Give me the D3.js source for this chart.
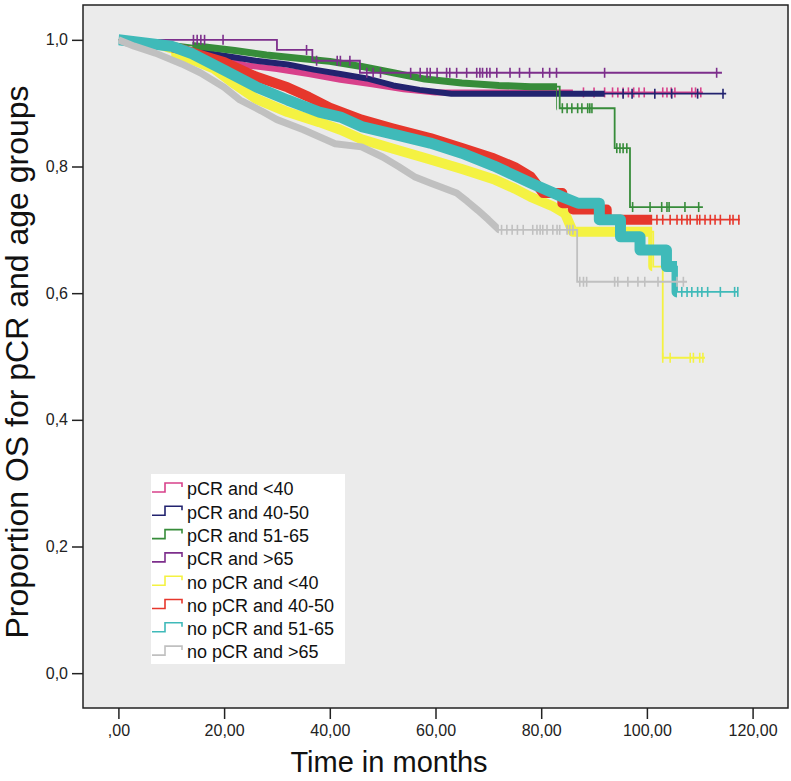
<!DOCTYPE html>
<html><head><meta charset="utf-8">
<script src="https://cdn.jsdelivr.net/npm/d3@7"></script>
<style>body{margin:0;background:#fff}svg text{font-family:"Liberation Sans",Arial,Helvetica,sans-serif}</style>
</head><body><svg id="c" width="791" height="781"></svg>
<script>
// ---- data ----
const seriesNames = ["pCR and <40","pCR and 40-50","pCR and 51-65","pCR and >65",
  "no pCR and <40","no pCR and 40-50","no pCR and 51-65","no pCR and >65"];
const seriesColors = ["#d8418b","#22236f","#378c3a","#7d2f8c","#f4f242","#e6372c","#3fbab9","#c0c0c0"];
const xTicks = [0,20,40,60,80,100,120];
const yTicks = [0,0.2,0.4,0.6,0.8,1.0];

// step knots [time, survival], end time, dense-censoring range, many-small-steps range end, sparse censor times
const pcrLt40 = [[0,1],[6,0.992],[12,0.983],[18,0.972],[24,0.960],[30,0.954],[36,0.946],[42,0.937],[48,0.930],[54,0.922],[60,0.917]];
const pcrLt40End = 110.6, pcrLt40Dense = [14,86], pcrLt40Smooth = 60;
const pcrLt40Cens = [88,90,92,93.5,94.5,95.5,96.5,97.5,98.5,99.5,103,103.8,104.6,105.3,108.5,109.2,110.2];

const pcr4050 = [[0,1],[8,0.992],[14,0.983],[20,0.975],[26,0.967],[32,0.961],[37,0.953],[42,0.946],[47,0.939],[52,0.928],[57,0.921],[63,0.915]];
const pcr4050End = 115, pcr4050Dense = [14,92], pcr4050Smooth = 63;
const pcr4050Cens = [95.5,97.2,101.5,104.7,109.6,114.4];

const pcr5165 = [[0,1],[10,0.995],[16,0.989],[22,0.983],[28,0.976],[34,0.971],[40,0.966],[46,0.958],[52,0.948],[58,0.938],[65,0.932],[72,0.928],[78,0.926],[83.5,0.892],[93.9,0.829],[96.8,0.736]];
const pcr5165End = 110.6, pcr5165Dense = [14,83], pcr5165Smooth = 78;
const pcr5165Cens = [84,84.9,85.8,86.9,87.7,88.8,89.2,89.6,94.3,94.9,95.5,96.2,97.3,100.6,102.8,103.8,104.2,107.2,109.8];

const pcrGt65 = [[0,1],[30,0.984],[36.7,0.967],[45.7,0.948]];
const pcrGt65End = 114.2, pcrGt65Dense = null, pcrGt65Smooth = 0;
const pcrGt65Cens = [14.2,14.9,15.6,16.3,19.8,35.6,37.5,41.4,42,43.8,47,48.2,49.6,55.3,57.1,58.4,59,60.3,62.1,62.7,64,65.9,67.8,68.4,68.9,69.7,70.3,71.6,74.1,75.9,77.8,80.3,81.6,82.9,92,113.2];

const noLt40 = [[0,1],[6,0.99],[12,0.975],[18,0.955],[22,0.930],[26,0.907],[32,0.886],[38,0.870],[42,0.858],[46,0.843],[52,0.828],[59,0.811],[65,0.796],[71,0.780],[75,0.765],[78,0.752],[82,0.738],[84.5,0.726],[86,0.697],[101.2,0.642],[103,0.498]];
const noLt40End = 111, noLt40Dense = [10,101], noLt40Smooth = 86;
const noLt40Cens = [103,104.4,108.2,108.8,110,110.6];

const no4050 = [[0,1],[6,0.995],[12,0.985],[16,0.975],[20,0.965],[26,0.942],[32,0.925],[36,0.910],[40,0.893],[46,0.874],[52,0.860],[59,0.845],[65,0.829],[71,0.813],[75,0.799],[78,0.784],[80.4,0.758],[84,0.742],[86,0.732],[92.4,0.716]];
const no4050End = 117.6, no4050Dense = [10,101], no4050Smooth = 80.4;
const no4050Cens = [101.9,103,104.4,105.7,106.6,107.6,108.2,109.5,110,111,112,112.9,113.9,115.7,116.3,117.4];

const no5165 = [[0,1],[5,0.995],[10,0.99],[14,0.978],[20,0.952],[26,0.926],[32,0.905],[38,0.886],[42,0.878],[46,0.863],[52,0.851],[59,0.837],[65,0.821],[71,0.801],[78,0.774],[84,0.752],[87,0.742],[91,0.716],[95,0.689],[98.7,0.668],[103.7,0.642],[105.7,0.602]];
const no5165End = 117.2, no5165Dense = [0,105.7], no5165Smooth = 87;
const no5165Cens = [106.6,107.6,108.5,109.6,110.4,111.5,113.9,116.6,117.2];

const noGt65 = [[0,1],[3,0.99],[7,0.979],[12,0.962],[15.5,0.948],[20,0.925],[23,0.905],[27,0.888],[30,0.874],[35,0.858],[41,0.836],[46,0.831],[50,0.815],[53,0.800],[56,0.784],[59,0.774],[64,0.758],[66,0.745],[68,0.731],[70,0.716],[72,0.700],[86.8,0.618]];
const noGt65End = 107.6, noGt65Dense = [0,72], noGt65Smooth = 72;
const noGt65Cens = [72.5,73.5,74.5,75.5,76.6,78.4,79.2,79.8,80.3,81.1,82.2,83,83.5,84.9,85.4,86,87.3,88,88.6,93.9,94.5,96.4,98.3,99.6,102.1,105.7,106.9];

const series = [
  {steps:pcrLt40,end:pcrLt40End,dense:pcrLt40Dense,smooth:pcrLt40Smooth,cens:pcrLt40Cens,bw:6},
  {steps:pcr4050,end:pcr4050End,dense:pcr4050Dense,smooth:pcr4050Smooth,cens:pcr4050Cens,bw:6},
  {steps:pcr5165,end:pcr5165End,dense:pcr5165Dense,smooth:pcr5165Smooth,cens:pcr5165Cens,bw:7},
  {steps:pcrGt65,end:pcrGt65End,dense:pcrGt65Dense,smooth:pcrGt65Smooth,cens:pcrGt65Cens,bw:0},
  {steps:noLt40,end:noLt40End,dense:noLt40Dense,smooth:noLt40Smooth,cens:noLt40Cens,bw:10},
  {steps:no4050,end:no4050End,dense:no4050Dense,smooth:no4050Smooth,cens:no4050Cens,bw:10},
  {steps:no5165,end:no5165End,dense:no5165Dense,smooth:no5165Smooth,cens:no5165Cens,bw:11},
  {steps:noGt65,end:noGt65End,dense:noGt65Dense,smooth:noGt65Smooth,cens:noGt65Cens,bw:7}
].map((s,i)=>Object.assign(s,{name:seriesNames[i],color:seriesColors[i]}));

// ---- layout ----
const L=83,R=788,T=5,B=708;
const x=d3.scaleLinear().domain([-6.7,126.7]).range([L,R]);
const y=d3.scaleLinear().domain([-0.055,1.055]).range([B,T]);
const svg=d3.select("#c");
const defs=svg.append("defs");

svg.append("rect").attr("x",L).attr("y",T).attr("width",R-L).attr("height",B-T).attr("fill","#ebebeb");
defs.append("clipPath").attr("id","clip").append("rect").attr("x",L).attr("y",T).attr("width",R-L).attr("height",B-T);
const g=svg.append("g").attr("clip-path","url(#clip)");

function survAt(steps,t){let v=steps[0][1];for(const k of steps){if(k[0]<=t)v=k[1];}return v;}
// vertices: straight runs where many small events occur (t <= smooth), KM steps elsewhere
function vertices(s){
  const out=[s.steps[0]];
  for(let i=1;i<s.steps.length;i++){
    const a=s.steps[i-1],b=s.steps[i];
    if(b[0]<=s.smooth){out.push(b);}else{out.push([b[0],a[1]]);out.push(b);}
  }
  out.push([s.end,s.steps[s.steps.length-1][1]]);
  return out;
}
const line=d3.line().x(d=>x(d[0])).y(d=>y(d[1]));

series.forEach((s,i)=>{
  const d=line(vertices(s));
  g.append("path").attr("d",d).attr("fill","none").attr("stroke",s.color).attr("stroke-width",1.8);
  if(s.dense){
    const id="band"+i;
    defs.append("clipPath").attr("id",id).append("rect")
      .attr("x",x(s.dense[0])).attr("y",T).attr("width",x(s.dense[1])-x(s.dense[0])).attr("height",B-T);
    g.append("g").attr("clip-path",`url(#${id})`).append("path").attr("d",d).attr("fill","none")
      .attr("stroke",s.color).attr("stroke-width",s.bw).attr("stroke-linejoin","round");
  }
  g.selectAll(null).data(s.cens).enter().append("line")
    .attr("x1",t=>x(t)).attr("x2",t=>x(t))
    .attr("y1",t=>y(survAt(s.steps,t))-5).attr("y2",t=>y(survAt(s.steps,t))+5)
    .attr("stroke",s.color).attr("stroke-width",1.6);
});

svg.append("rect").attr("x",L).attr("y",T).attr("width",R-L).attr("height",B-T).attr("fill","none").attr("stroke","#222").attr("stroke-width",1.5);

// axes
const fx=v=>{const s=d3.format(".2f")(v).replace(".",",");return s.startsWith("0,")?s.slice(1):s;};
const fy=v=>d3.format(".1f")(v).replace(".",",");
const ax=svg.append("g").attr("transform",`translate(0,${B})`).call(d3.axisBottom(x).tickValues(xTicks).tickFormat(fx).tickSize(11).tickPadding(6));
const ay=svg.append("g").attr("transform",`translate(${L},0)`).call(d3.axisLeft(y).tickValues(yTicks).tickFormat(fy).tickSize(11).tickPadding(4));
[ax,ay].forEach(a=>{a.select(".domain").remove();a.selectAll("line").attr("stroke","#222").attr("stroke-width",1.5);
  a.selectAll("text").attr("font-size",16).attr("fill","#222").style("font-family","'Liberation Sans',Arial,sans-serif");});

svg.append("text").attr("x",389).attr("y",772).attr("text-anchor","middle").attr("font-size",29).attr("fill","#111").text("Time in months");
svg.append("text").attr("transform","translate(28,362) rotate(-90)").attr("text-anchor","middle").attr("font-size",32).attr("fill","#111").text("Proportion OS for pCR and age groups");

// legend
const lg=svg.append("g");
lg.append("rect").attr("x",151).attr("y",474).attr("width",194).attr("height",190).attr("fill","#fff");
series.forEach((s,i)=>{
  const yc=489+i*23.3;
  lg.append("path").attr("d",`M152,${yc+3}H165V${yc-6}H182V${yc-2}`).attr("fill","none").attr("stroke",s.color).attr("stroke-width",1.6);
  lg.append("text").attr("x",187).attr("y",yc).attr("dy","0.35em").attr("font-size",18).attr("fill","#111").text(s.name);
});
</script></body></html>
